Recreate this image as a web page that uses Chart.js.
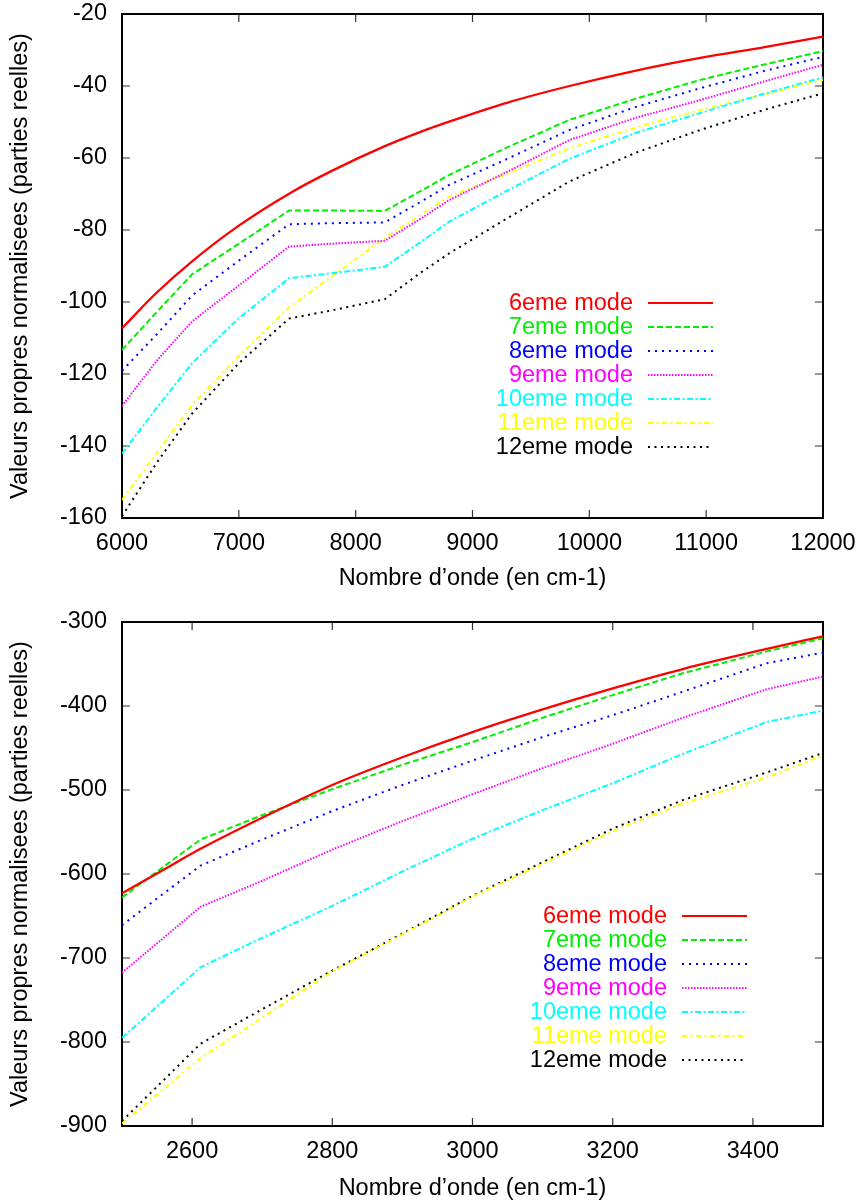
<!DOCTYPE html>
<html><head><meta charset="utf-8">
<script src="https://cdn.jsdelivr.net/npm/chart.js@4.4.1/dist/chart.umd.min.js"></script>
<style>
html,body{margin:0;padding:0;background:#fff;width:863px;height:1203px;overflow:hidden;}
canvas{position:absolute;left:0;}
#c1{top:0;}
#c2{top:605px;}
</style></head>
<body>
<canvas id="c1" width="863" height="605"></canvas>
<canvas id="c2" width="863" height="598"></canvas>
<script>
// ---------- data ----------
const seriesLabels = ['6eme mode','7eme mode','8eme mode','9eme mode','10eme mode','11eme mode','12eme mode'];
const yTitle = 'Valeurs propres normalisees (parties reelles)';
const xTitle = 'Nombre d\u2019onde (en cm-1)';

// top chart
const topX    = [6000, 6300, 6600, 7000, 7430, 7800, 8250, 8550, 8800, 9300, 9830, 10400, 10950, 11500, 12000];
const top6    = [-107.3, -97.3, -88.7, -78.8, -69.9, -63.5, -56.7, -52.8, -49.9, -44.6, -40.0, -35.7, -32.2, -29.2, -26.3];
const top7    = [-113.3, -102.7, -92.3, -83.8, -74.6, -74.6, -74.7, -69.3, -64.7, -57.0, -49.4, -43.5, -38.3, -34.0, -30.3];
const top8    = [-119.1, -108.9, -98.2, -88.5, -78.4, -78.1, -77.9, -72.3, -67.5, -60.2, -52.2, -45.8, -40.6, -35.8, -31.9];
const top9    = [-128.9, -116.2, -105.4, -95.4, -84.6, -83.8, -83.0, -77.0, -71.7, -63.8, -55.0, -48.8, -43.9, -38.7, -34.1];
const top10   = [-142.1, -129.3, -117.0, -104.5, -93.4, -92.0, -90.2, -83.5, -77.7, -69.0, -60.2, -53.0, -47.5, -42.1, -37.6];
const top11   = [-155.0, -141.8, -128.6, -115.0, -101.5, -92.8, -82.2, -75.9, -70.7, -64.3, -57.3, -51.5, -46.7, -42.3, -38.3];
const top12   = [-159.5, -144.5, -131.0, -117.0, -104.6, -102.3, -99.2, -92.0, -86.5, -76.7, -66.5, -58.5, -52.2, -46.6, -42.0];
const topXTicks = [6000, 7000, 8000, 9000, 10000, 11000, 12000];
const topYTicks = [-160, -140, -120, -100, -80, -60, -40, -20];

// bottom chart
const botX    = [2500, 2555, 2612, 2700, 2800, 2900, 3000, 3100, 3200, 3300, 3420, 3500];
const bot6    = [-623, -597, -570, -533, -494, -461, -431, -404, -379, -356, -332, -317];
const bot7    = [-628, -594, -559, -530, -499, -470, -443, -414, -387, -361, -335, -319.5];
const bot8    = [-661, -626, -590, -559, -525, -494, -465, -437, -411, -383, -349, -336.5];
const bot9    = [-717.5, -679, -639, -608, -571, -537, -505, -474, -445, -414, -380, -365];
const bot10   = [-795, -754, -711, -676, -638, -597, -558, -524, -492, -457, -419, -405.5];
const bot11   = [-897, -859, -819, -771, -716, -672, -627, -588, -549, -516, -485, -459];
const bot12   = [-894, -849, -802, -761, -715, -671, -626, -586, -546, -512, -479, -456];
const botXTicks = [2600, 2800, 3000, 3200, 3400];
const botYTicks = [-900, -800, -700, -600, -500, -400, -300];

// ---------- styles ----------
const styles = [
  {color:'#ff0000', dash:[], smooth:true},
  {color:'#00ee00', dash:[6,3]},
  {color:'#0000ff', dash:[2,5]},
  {color:'#ff00ff', dash:[1.5,1.5]},
  {color:'#00ffff', dash:[6,2.5,2,2.5]},
  {color:'#ffff00', dash:[5,3.5,2,3.5]},
  {color:'#000000', dash:[2,4.5]}
];
const FONT = "'Liberation Sans', Arial, Helvetica, sans-serif";
const FS = 23.5;
Chart.defaults.font.family = FONT;
Chart.defaults.font.size = FS;
Chart.defaults.color = '#000';

function makeDatasets(xs, ys) {
  return ys.map((arr, i) => ({
    label: seriesLabels[i],
    data: xs.map((x, k) => ({x: x, y: arr[k]})),
    borderColor: styles[i].color,
    backgroundColor: styles[i].color,
    borderWidth: i === 0 ? 2.3 : 2,
    borderDash: styles[i].dash,
    borderCapStyle: 'butt',
    pointRadius: 0,
    fill: false,
    tension: 0,
    cubicInterpolationMode: styles[i].smooth ? 'monotone' : 'default'
  }));
}

const framePlugin = {
  id: 'frameTicks',
  beforeDatasetsDraw(chart) {
    const {ctx, chartArea: a, scales: {x, y}} = chart;
    ctx.save();
    ctx.setLineDash([]);
    ctx.strokeStyle = '#333';
    ctx.lineWidth = 1.2;
    const L = 8;
    ctx.beginPath();
    x.ticks.forEach(t => {
      const px = x.getPixelForValue(t.value);
      ctx.moveTo(px, a.bottom); ctx.lineTo(px, a.bottom - L);
      ctx.moveTo(px, a.top); ctx.lineTo(px, a.top + L);
    });
    y.ticks.forEach(t => {
      const py = y.getPixelForValue(t.value);
      ctx.moveTo(a.left, py); ctx.lineTo(a.left + L, py);
      ctx.moveTo(a.right, py); ctx.lineTo(a.right - L, py);
    });
    ctx.stroke();
    ctx.strokeStyle = '#000';
    ctx.lineWidth = 2;
    ctx.strokeRect(a.left, a.top, a.right - a.left, a.bottom - a.top);
    ctx.restore();
  }
};

const keyPlugin = {
  id: 'gnuKey',
  afterDatasetsDraw(chart, args, opts) {
    const {ctx, chartArea: a} = chart;
    ctx.save();
    ctx.font = FS + 'px ' + FONT;
    ctx.textAlign = 'right';
    ctx.textBaseline = 'middle';
    chart.data.datasets.forEach((ds, i) => {
      const yy = a.top + opts.dy + i * opts.step;
      const tx = a.left + opts.dx;
      ctx.fillStyle = ds.borderColor;
      ctx.fillText(ds.label, tx, yy + 1);
      ctx.strokeStyle = ds.borderColor;
      ctx.lineWidth = 2;
      ctx.lineCap = 'butt';
      ctx.setLineDash(ds.borderDash || []);
      ctx.beginPath();
      ctx.moveTo(tx + opts.gap, yy);
      ctx.lineTo(tx + opts.gap + opts.len, yy);
      ctx.stroke();
    });
    ctx.restore();
  }
};

function makeChart(id, xs, ys, xmin, xmax, ymin, ymax, xTicks, yTicks, layoutPad, xAxisH, titleBottomPad, key) {
  return new Chart(document.getElementById(id), {
    type: 'line',
    data: {datasets: makeDatasets(xs, ys)},
    plugins: [framePlugin, keyPlugin],
    options: {
      responsive: false,
      devicePixelRatio: 1,
      animation: false,
      events: [],
      layout: {padding: layoutPad},
      plugins: {
        legend: {display: false},
        tooltip: {enabled: false},
        gnuKey: key
      },
      scales: {
        x: {
          type: 'linear', min: xmin, max: xmax,
          afterBuildTicks: s => { s.ticks = xTicks.map(v => ({value: v})); },
          afterFit: s => { s.height = xAxisH; s.paddingLeft = 0; s.paddingRight = 0; },
          grid: {display: false, drawTicks: false},
          border: {display: false},
          ticks: {padding: 11, color: '#000', maxRotation: 0, autoSkip: false,
                  callback: v => String(v)},
          title: {display: true, text: xTitle, color: '#000',
                  padding: {top: 0, bottom: titleBottomPad}}
        },
        y: {
          type: 'linear', min: ymin, max: ymax,
          afterBuildTicks: s => { s.ticks = yTicks.map(v => ({value: v})); },
          afterFit: s => { s.width = 122; s.paddingTop = 0; s.paddingBottom = 0; },
          grid: {display: false, drawTicks: false},
          border: {display: false},
          ticks: {padding: 15, color: '#000', autoSkip: false, callback: v => String(v)},
          title: {display: true, text: yTitle, color: '#000',
                  padding: {top: 6, bottom: 0}}
        }
      }
    }
  });
}

makeChart('c1', topX, [top6, top7, top8, top9, top10, top11, top12],
  6000, 12000, -160, -20, topXTicks, topYTicks,
  {top: 14, right: 40, left: 0, bottom: 0}, 87, 12,
  {dx: 511, dy: 289, step: 24, gap: 15, len: 65});

makeChart('c2', botX, [bot6, bot7, bot8, bot9, bot10, bot11, bot12],
  2500, 3500, -900, -300, botXTicks, botYTicks,
  {top: 17, right: 40, left: 0, bottom: 0}, 77, 0,
  {dx: 545, dy: 294, step: 24, gap: 15, len: 65});
</script>
</body></html>
